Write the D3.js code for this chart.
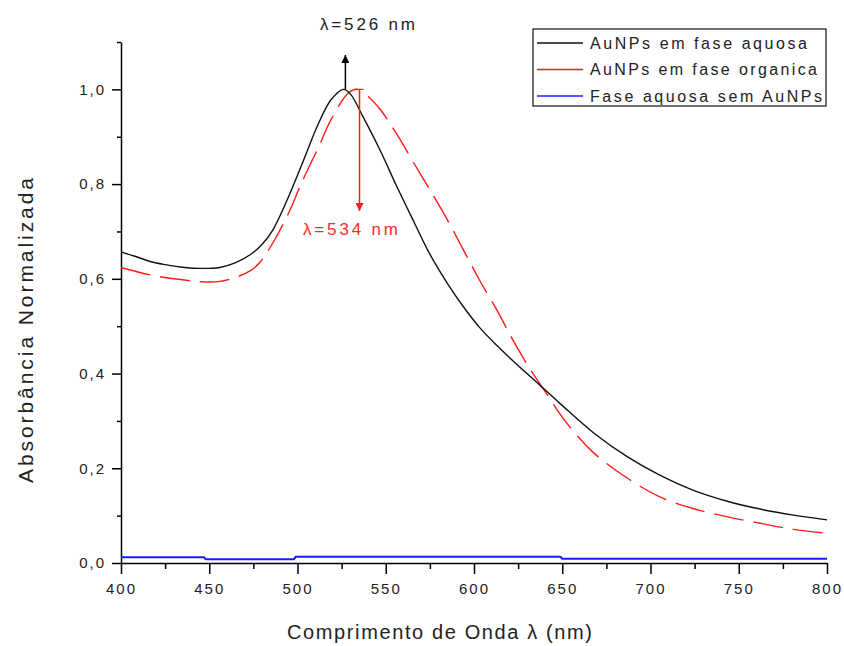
<!DOCTYPE html>
<html lang="pt">
<head>
    <meta charset="UTF-8">
    <title>Absorbância Normalizada</title>
    <script src="https://d3js.org/d3.v7.min.js"></script>
    <style>
        body { margin: 0; background: #fff; }
        svg text { font-family: "Liberation Sans", Arial, sans-serif; }
        .axis path, .axis line { stroke: #000; stroke-width: 1.5px; }
        .axis text { font-size: 15px; fill: #222; letter-spacing: 2px; }
    </style>
</head>
<body>
    <div id="chart"></div>
    <script>
        // Espectros
        const aquosaNm = [400, 410, 417, 425, 436, 445, 456, 465, 474, 480, 486, 493, 502, 512, 519, 526, 530, 537, 547, 556, 566, 575, 585, 594, 603, 613, 622, 636, 649, 668, 687, 705, 724, 743, 762, 781, 800];
        const aquosaAbs = [0.657, 0.645, 0.636, 0.630, 0.624, 0.622, 0.624, 0.634, 0.653, 0.673, 0.703, 0.757, 0.837, 0.929, 0.978, 1.000, 0.990, 0.943, 0.870, 0.797, 0.720, 0.652, 0.590, 0.541, 0.498, 0.459, 0.427, 0.380, 0.336, 0.274, 0.224, 0.186, 0.154, 0.131, 0.114, 0.101, 0.091];

        const organicaNm = [400, 417, 430, 445, 455, 465, 474, 479, 487, 495, 502, 512, 519, 529, 534, 540, 547, 556, 566, 575, 585, 594, 603, 613, 622, 632, 641, 652, 668, 687, 705, 724, 743, 762, 781, 800];
        const organicaAbs = [0.624, 0.608, 0.600, 0.594, 0.594, 0.603, 0.619, 0.636, 0.682, 0.739, 0.800, 0.879, 0.936, 0.993, 1.000, 0.985, 0.957, 0.907, 0.844, 0.788, 0.724, 0.661, 0.598, 0.534, 0.471, 0.408, 0.358, 0.298, 0.232, 0.179, 0.140, 0.115, 0.098, 0.084, 0.071, 0.063];

        const semNm = [400, 447, 448, 498, 499, 649, 650, 800];
        const semAbs = [0.012, 0.012, 0.008, 0.008, 0.013, 0.013, 0.009, 0.009];

        const xTicks = [400, 450, 500, 550, 600, 650, 700, 750, 800];
        const xMinor = [425, 475, 525, 575, 625, 675, 725, 775];
        const yTicks = [0, 0.2, 0.4, 0.6, 0.8, 1.0];
        const yMinor = [0.1, 0.3, 0.5, 0.7, 0.9, 1.1];

        const legendLabels = ["AuNPs em fase aquosa", "AuNPs em fase organica", "Fase aquosa sem AuNPs"];
        const picos = [526, 534];

        const width = 844, height = 646;
        const svg = d3.select("#chart").append("svg")
            .attr("width", width)
            .attr("height", height);

        const x = d3.scaleLinear().domain([400, 800]).range([121, 827]);
        const y = d3.scaleLinear().domain([0, 1.1]).range([563, 42]);

        const fmt = d => d3.format(".1f")(d).replace(".", ",");

        // eixos
        const gx = svg.append("g").attr("class", "axis").attr("transform", `translate(0,${y(0)})`);
        gx.call(d3.axisBottom(x).tickValues(xTicks).tickSize(11).tickSizeOuter(0).tickPadding(9).tickFormat(d3.format("d")));
        gx.append("g").call(d3.axisBottom(x).tickValues(xMinor).tickSize(6).tickFormat(""))
            .call(g => g.select(".domain").remove());

        const gy = svg.append("g").attr("class", "axis").attr("transform", `translate(${x(400)},0)`);
        gy.call(d3.axisLeft(y).tickValues(yTicks).tickSize(9).tickSizeOuter(0).tickPadding(8).tickFormat(fmt));
        gy.append("g").call(d3.axisLeft(y).tickValues(yMinor).tickSize(4).tickFormat(""))
            .call(g => g.select(".domain").remove());
        gy.selectAll(".tick text").attr("dx", 2);

        // curvas
        const line = d3.line()
            .x(d => x(d[0]))
            .y(d => y(d[1]))
            .curve(d3.curveCatmullRom.alpha(0.5));

        svg.append("path")
            .datum(d3.zip(semNm, semAbs))
            .attr("fill", "none")
            .attr("stroke", "#1a1aff")
            .attr("stroke-width", 2)
            .attr("d", d3.line().x(d => x(d[0])).y(d => y(d[1])));

        svg.append("path")
            .datum(d3.zip(organicaNm, organicaAbs))
            .attr("fill", "none")
            .attr("stroke", "#ff1a1a")
            .attr("stroke-width", 1.4)
            .attr("stroke-dasharray", "30,10")
            .attr("d", line);

        svg.append("path")
            .datum(d3.zip(aquosaNm, aquosaAbs))
            .attr("fill", "none")
            .attr("stroke", "#111")
            .attr("stroke-width", 1.4)
            .attr("d", line);

        // setas dos picos
        const defs = svg.append("defs");
        [["seta-preta", "#000"], ["seta-vermelha", "#ff1a1a"]].forEach(([id, cor]) => {
            defs.append("marker")
                .attr("id", id)
                .attr("viewBox", "0 0 10 10")
                .attr("refX", 10).attr("refY", 5)
                .attr("markerWidth", 10).attr("markerHeight", 8)
                .attr("markerUnits", "userSpaceOnUse")
                .attr("orient", "auto")
                .append("path").attr("d", "M0,0L10,5L0,10Z").attr("fill", cor);
        });

        svg.append("line")
            .attr("x1", x(picos[0]) + 2).attr("x2", x(picos[0]) + 2)
            .attr("y1", y(1.0)).attr("y2", 55)
            .attr("stroke", "#000").attr("stroke-width", 1.5)
            .attr("marker-end", "url(#seta-preta)");
        svg.append("line")
            .attr("x1", x(picos[1]) + 2).attr("x2", x(picos[1]) + 2)
            .attr("y1", y(1.0)).attr("y2", 211)
            .attr("stroke", "#ff1a1a").attr("stroke-width", 1.5)
            .attr("marker-end", "url(#seta-vermelha)");
        svg.append("line")
            .attr("x1", x(picos[1]) - 2).attr("x2", x(picos[1]) + 6)
            .attr("y1", y(1.0)).attr("y2", y(1.0))
            .attr("stroke", "#ff1a1a").attr("stroke-width", 1.2);

        svg.append("text")
            .attr("x", 320).attr("y", 30)
            .attr("font-size", 17).attr("fill", "#222")
            .attr("textLength", 95).attr("lengthAdjust", "spacing")
            .text(`λ=${picos[0]} nm`);
        svg.append("text")
            .attr("x", 303).attr("y", 235)
            .attr("font-size", 17).attr("fill", "#ff2a2a")
            .attr("textLength", 95).attr("lengthAdjust", "spacing")
            .text(`λ=${picos[1]} nm`);

        // legenda
        const legend = svg.append("g");
        legend.append("rect")
            .attr("x", 533).attr("y", 29)
            .attr("width", 293).attr("height", 77)
            .attr("fill", "#fff").attr("stroke", "#222").attr("stroke-width", 1.3);
        const cores = ["#111", "#ff1a1a", "#1a1aff"];
        const larguras = [217, 227, 232];
        legendLabels.forEach((t, i) => {
            const cy = 43 + i * 26.5;
            legend.append("line")
                .attr("x1", 537).attr("x2", 583)
                .attr("y1", cy).attr("y2", cy)
                .attr("stroke", cores[i]).attr("stroke-width", 1.5);
            legend.append("text")
                .attr("x", 590).attr("y", cy + 5.5)
                .attr("font-size", 16).attr("fill", "#222")
                .attr("textLength", larguras[i]).attr("lengthAdjust", "spacing")
                .text(t);
        });

        // títulos dos eixos
        svg.append("text")
            .attr("transform", "translate(33,483) rotate(-90)")
            .attr("font-size", 21).attr("fill", "#222")
            .attr("textLength", 305).attr("lengthAdjust", "spacing")
            .text("Absorbância Normalizada");
        svg.append("text")
            .attr("x", 287).attr("y", 639)
            .attr("font-size", 20).attr("fill", "#222")
            .attr("textLength", 305).attr("lengthAdjust", "spacing")
            .text("Comprimento de Onda λ (nm)");
    </script>
</body>
</html>
